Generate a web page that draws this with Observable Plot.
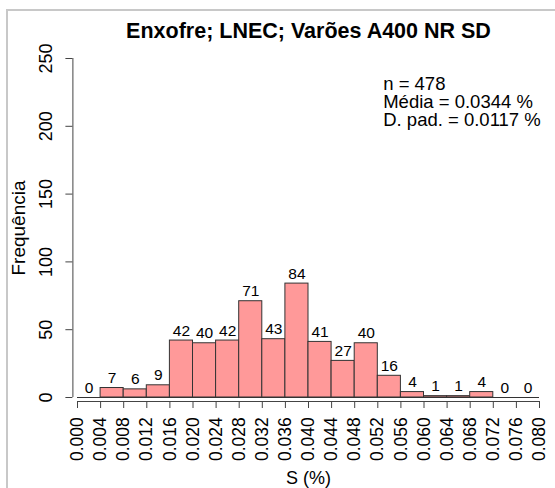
<!DOCTYPE html>
<html><head><meta charset="utf-8">
<script src="https://cdn.jsdelivr.net/npm/d3@7"></script>
<script src="https://cdn.jsdelivr.net/npm/@observablehq/plot@0.6"></script>
<style>
html,body{margin:0;padding:0;background:#fff;}
#wrap{position:relative;width:555px;height:488px;overflow:hidden;}
#border{position:absolute;left:6px;top:9px;width:600px;height:600px;border-left:2px solid #c8c8c8;border-top:2px solid #c8c8c8;pointer-events:none;}
</style></head><body>
<div id="wrap"><div id="chart"></div><div id="border"></div></div>
<script>
const title = "Enxofre; LNEC; Varões A400 NR SD";
const xLabel = "S (%)";
const yLabel = "Frequência";
const xTickLabels = ["0.000","0.004","0.008","0.012","0.016","0.020","0.024","0.028","0.032","0.036","0.040","0.044","0.048","0.052","0.056","0.060","0.064","0.068","0.072","0.076","0.080"];
const binStarts = [0.000,0.004,0.008,0.012,0.016,0.020,0.024,0.028,0.032,0.036,0.040,0.044,0.048,0.052,0.056,0.060,0.064,0.068,0.072,0.076];
const binEnds   = [0.004,0.008,0.012,0.016,0.020,0.024,0.028,0.032,0.036,0.040,0.044,0.048,0.052,0.056,0.060,0.064,0.068,0.072,0.076,0.080];
const counts    = [0,7,6,9,42,40,42,71,43,84,41,27,40,16,4,1,1,4,0,0];
const yTicks = [0,50,100,150,200,250];
const statsLines = ["n = 478","Média = 0.0344 %","D. pad. = 0.0117 %"];

const xTicks = xTickLabels.map(Number);
const bins = binStarts.map((x0, i) => ({x0, x1: binEnds[i], count: counts[i]}));
const axisColor = "#444";

const chart = Plot.plot({
  width: 555,
  height: 488,
  marginLeft: 77,
  marginRight: 16,
  marginTop: 58,
  marginBottom: 91,
  style: {fontFamily: "'Liberation Sans', Arial, sans-serif", background: "#fff", color: "#000"},
  x: {domain: [xTicks[0], xTicks[xTicks.length - 1]]},
  y: {domain: [yTicks[0], yTicks[yTicks.length - 1]]},
  marks: [
    Plot.rectY(bins, {x1: "x0", x2: "x1", y: "count", fill: "#ff9999", stroke: "#333", strokeWidth: 1}),
    Plot.ruleY([yTicks[0]], {x1: xTicks[0], x2: xTicks[xTicks.length - 1], stroke: "#333", strokeWidth: 1}),
    Plot.text(bins, {x: d => (d.x0 + d.x1) / 2, y: "count", text: d => String(d.count), dy: -5, lineAnchor: "bottom", fontSize: 15.5, fill: "#000"}),
    // x axis
    Plot.ruleY([yTicks[0]], {x1: xTicks[0], x2: xTicks[xTicks.length - 1], dy: 4, stroke: axisColor}),
    Plot.axisX(xTicks, {tickSize: 7, dy: 4, stroke: axisColor, fill: "none", label: null}),
    Plot.text(xTickLabels, {x: d => +d, text: d => d, frameAnchor: "bottom", rotate: -90, textAnchor: "end", lineAnchor: "middle", dy: 19.7, fontSize: 17.5, fill: "#000"}),
    Plot.text([xLabel], {text: d => d, frameAnchor: "bottom", dy: 86, lineAnchor: "bottom", fontSize: 18, fill: "#000"}),
    // y axis
    Plot.ruleX([xTicks[0]], {y1: yTicks[0], y2: yTicks[yTicks.length - 1], dx: -4.6, stroke: axisColor}),
    Plot.axisY(yTicks, {tickSize: 7, dx: -4.6, stroke: axisColor, fill: "none", label: null}),
    Plot.text(yTicks, {y: d => d, text: d => String(d), frameAnchor: "left", rotate: -90, textAnchor: "middle", lineAnchor: "bottom", dx: -25.3, fontSize: 18, fill: "#000"}),
    Plot.text([yLabel], {text: d => d, frameAnchor: "left", rotate: -90, textAnchor: "middle", lineAnchor: "bottom", dx: -52.3, fontSize: 19, fill: "#000"}),
    // title
    Plot.text([title], {text: d => d, frameAnchor: "top", dy: -21, lineAnchor: "bottom", fontSize: 21.5, fontWeight: "bold", fill: "#000"}),
    // stats
    Plot.text([statsLines.join("\n")], {text: d => d, frameAnchor: "top-left", dx: 305.7, dy: 18.6, textAnchor: "start", lineAnchor: "top", lineHeight: 0.97, fontSize: 18.5, fill: "#000"})
  ]
});
document.getElementById("chart").appendChild(chart);
</script>
</body></html>
